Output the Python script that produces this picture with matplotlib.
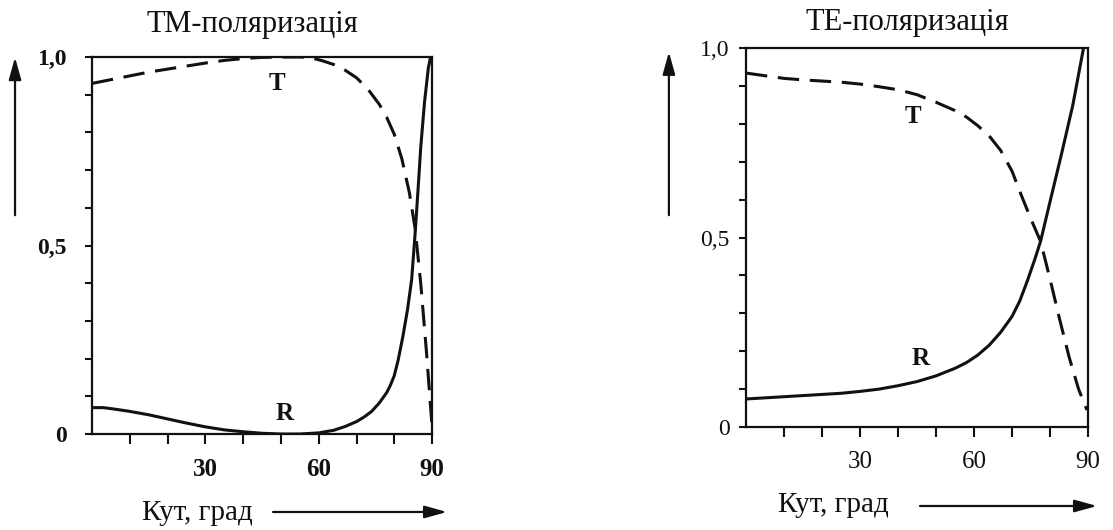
import matplotlib
matplotlib.use('Agg')
import matplotlib.pyplot as plt
from matplotlib.patches import FancyArrowPatch
from matplotlib.ticker import FixedLocator

plt.rcParams['font.family'] = ['Liberation Serif', 'DejaVu Serif']

# ТМ-поляризація
tm_ang_t = [0, 5, 10, 15, 20, 25, 30, 35, 40, 45, 50, 55, 58, 61, 64, 67, 70, 73, 76, 78, 80, 82, 84, 85.5, 87, 88.5, 90]
tm_t = [0.93, 0.94, 0.95, 0.96, 0.968, 0.976, 0.984, 0.991, 0.996, 0.999, 1.0, 1.0, 0.998, 0.99, 0.98, 0.965,
        0.945, 0.915, 0.875, 0.84, 0.795, 0.73, 0.64, 0.546, 0.4, 0.22, 0.02]
tm_ang_r = [0, 3, 6, 10, 15, 20, 25, 30, 35, 40, 45, 50, 55, 60, 64, 67, 70, 72, 74, 76, 78, 79, 80, 81, 82.3,
            83.5, 84.6, 85.5, 86.3, 87, 88, 89, 89.6]
tm_r = [0.07, 0.07, 0.066, 0.06, 0.051, 0.04, 0.029, 0.019, 0.011, 0.006, 0.002, 0.0, 0.0, 0.003, 0.01, 0.02,
        0.033, 0.045, 0.06, 0.082, 0.11, 0.13, 0.155, 0.195, 0.26, 0.33, 0.41, 0.53, 0.65, 0.76, 0.88, 0.97, 1.0]

# ТЕ-поляризація
te_ang_t = [0, 5, 10, 15, 20, 25, 30, 35, 40, 45, 50, 55, 58, 61, 64, 67, 70, 72.5, 75, 77.5, 80, 82.5, 85, 87.5, 89.7]
te_t = [0.934, 0.927, 0.92, 0.916, 0.913, 0.91, 0.905, 0.898, 0.89, 0.877, 0.857, 0.835, 0.818, 0.795, 0.768,
        0.73, 0.675, 0.61, 0.548, 0.49, 0.39, 0.285, 0.185, 0.1, 0.045]
te_ang_r = [0, 5, 10, 15, 20, 25, 30, 35, 40, 45, 50, 55, 58, 61, 64, 67, 70, 72, 74, 76, 77.5, 80, 83, 86, 88.8]
te_r = [0.074, 0.077, 0.08, 0.083, 0.086, 0.089, 0.094, 0.1, 0.109, 0.12, 0.135, 0.155, 0.17, 0.19, 0.216,
        0.25, 0.292, 0.332, 0.385, 0.443, 0.49, 0.595, 0.72, 0.85, 1.0]

x_ticks = [10, 20, 30, 40, 50, 60, 70, 80, 90]
x_labels = ['', '', '30', '', '', '60', '', '', '90']
y_ticks = [0, 0.1, 0.2, 0.3, 0.4, 0.5, 0.6, 0.7, 0.8, 0.9, 1.0]
y_labels = ['0', '', '', '', '', '0,5', '', '', '', '', '1,0']

fig = plt.figure(figsize=(11.13, 5.30), dpi=100)
ax1 = fig.add_axes([0.0827, 0.1811, 0.3055, 0.7113])
ax2 = fig.add_axes([0.6703, 0.1943, 0.3073, 0.7150])

ink = '#111111'


def style(ax, bold):
    ax.set_xlim(0, 90)
    ax.set_ylim(0, 1.0)
    for s in ax.spines.values():
        s.set_linewidth(1.6)
        s.set_color(ink)
    w = 'bold' if bold else 'normal'
    ax.xaxis.set_major_locator(FixedLocator(x_ticks))
    ax.yaxis.set_major_locator(FixedLocator(y_ticks))
    ax.set_xticklabels(x_labels, fontsize=18, fontweight=w, color=ink)
    ax.set_yticklabels(y_labels, fontsize=17, fontweight=w, color=ink)
    ax.tick_params(axis='x', direction='out', length=7, width=1.5, pad=10, color=ink)
    ax.tick_params(axis='y', direction='out', length=5, width=1.5, pad=13 if bold else 7, color=ink)


# left panel
ax1.plot(tm_ang_t, tm_t, color=ink, lw=2.2, dashes=(7, 3.5))
ax1.plot(tm_ang_r, tm_r, color=ink, lw=2.2)
style(ax1, True)
ax1.text(49, 0.93, 'T', fontsize=18, fontweight='bold', ha='center', va='center', color=ink)
ax1.text(51, 0.055, 'R', fontsize=18, fontweight='bold', ha='center', va='center', color=ink)

# right panel
ax2.plot(te_ang_t, te_t, color=ink, lw=2.2, dashes=(7, 3.5))
ax2.plot(te_ang_r, te_r, color=ink, lw=2.2)
style(ax2, False)
ax2.text(44, 0.82, 'T', fontsize=18, fontweight='bold', ha='center', va='center', color=ink)
ax2.text(46, 0.18, 'R', fontsize=18, fontweight='bold', ha='center', va='center', color=ink)

# titles
fig.text(0.2264, 0.953, 'ТМ-поляризація', fontsize=22, ha='center', va='center', color=ink)
fig.text(0.815, 0.957, 'ТЕ-поляризація', fontsize=22, ha='center', va='center', color=ink)

# x axis captions with arrows
fig.text(0.1276, 0.032, 'Кут, град', fontsize=21, ha='left', va='center', color=ink)
fig.text(0.699, 0.047, 'Кут, град', fontsize=21, ha='left', va='center', color=ink)
arrow = dict(arrowstyle='-|>,head_length=0.9,head_width=0.25', color=ink, lw=1.6,
             shrinkA=0, shrinkB=0, mutation_scale=15, transform=fig.transFigure)
fig.add_artist(FancyArrowPatch((0.2453, 0.034), (0.4016, 0.034), **arrow))
fig.add_artist(FancyArrowPatch((0.8266, 0.0453), (0.9856, 0.0453), **arrow))

# y axis arrows
fig.add_artist(FancyArrowPatch((0.0135, 0.594), (0.0135, 0.892), **arrow))
fig.add_artist(FancyArrowPatch((0.601, 0.594), (0.601, 0.902), **arrow))

fig.savefig('out.png', dpi=100, facecolor='white')
